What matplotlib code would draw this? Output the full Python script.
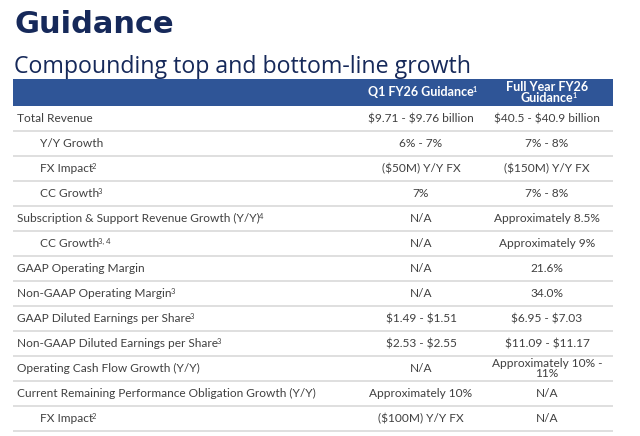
import matplotlib
matplotlib.use("Agg")
import matplotlib.pyplot as plt
from matplotlib.patches import Rectangle

plt.rcParams['font.family'] = ['Lato', 'DejaVu Sans']

title = "Guidance"
subtitle = "Compounding top and bottom-line growth"
col_headers = [["Q1 FY26 Guidance"], ["Full Year FY26", "Guidance"]]
col_header_sups = ["1", "1"]

labels = [
    "Total Revenue",
    "Y/Y Growth",
    "FX Impact",
    "CC Growth",
    "Subscription & Support Revenue Growth (Y/Y)",
    "CC Growth",
    "GAAP Operating Margin",
    "Non-GAAP Operating Margin",
    "GAAP Diluted Earnings per Share",
    "Non-GAAP Diluted Earnings per Share",
    "Operating Cash Flow Growth (Y/Y)",
    "Current Remaining Performance Obligation Growth (Y/Y)",
    "FX Impact",
]
label_sups = ["", "", "2", "3", "4", "3, 4", "", "3", "3", "3", "", "", "2"]
indented = [False, True, True, True, False, True, False, False, False, False, False, False, True]
q1_values = [
    "$9.71 - $9.76 billion", "6% - 7%", "($50M) Y/Y FX", "7%", "N/A", "N/A", "N/A",
    "N/A", "$1.49 - $1.51", "$2.53 - $2.55", "N/A", "Approximately 10%", "($100M) Y/Y FX",
]
fy_values = [
    "$40.5 - $40.9 billion", "7% - 8%", "($150M) Y/Y FX", "7% - 8%", "Approximately 8.5%",
    "Approximately 9%", "21.6%", "34.0%", "$6.95 - $7.03", "$11.09 - $11.17",
    "Approximately 10% -\n11%", "N/A", "N/A",
]

navy = "#16295a"
band_blue = "#2f5597"
text_gray = "#404040"
line_gray = "#dcdcdc"


def draw_text(ax, x, y, text, sup="", sup_size=5.5, **kw):
    t = ax.text(x, y, text, parse_math=False, **kw)
    if sup:
        # superscript hangs off the top right corner of the main text
        ax.annotate(sup, xy=(1, 1.0), xycoords=t, xytext=(-0.8, 0.3),
                    textcoords="offset points", fontsize=sup_size,
                    color=kw.get("color"), fontweight=kw.get("fontweight", "normal"),
                    ha="left", va="top", zorder=kw.get("zorder", 3))
    return t


fig = plt.figure(figsize=(6.4, 4.36), dpi=100)
ax = fig.add_axes([0, 0, 1, 1])
ax.set_xlim(0, 640)
ax.set_ylim(436, 0)
ax.axis("off")

# title block
ax.text(15, 33, title, fontsize=22, fontweight="bold", color=navy,
        family=["DejaVu Sans"], va="baseline", ha="left")
ax.text(14, 73, subtitle, fontsize=16.7, color=navy,
        family=["Open Sans", "DejaVu Sans"], va="baseline", ha="left")

# header band
left, right = 13, 613
band_top, band_bot = 79, 106
col_x = [421, 547]
ax.add_patch(Rectangle((left, band_top), right - left, band_bot - band_top,
                       facecolor=band_blue, edgecolor="none", zorder=2))
band_mid = (band_top + band_bot) / 2
for cx, lines, sup in zip(col_x, col_headers, col_header_sups):
    step = 11.5
    y0 = band_mid - step * (len(lines) - 1) / 2
    for j, line in enumerate(lines):
        last = j == len(lines) - 1
        draw_text(ax, cx, y0 + j * step, line, sup if last else "", sup_size=5,
                  fontsize=9, fontweight="bold", color="white",
                  ha="center", va="center", zorder=3)

# body rows
row_h = 25
for i, lab in enumerate(labels):
    y_top = band_bot + i * row_h
    yc = y_top + row_h / 2
    x0 = 40 if indented[i] else 17
    draw_text(ax, x0, yc, lab, label_sups[i], fontsize=8.6, color=text_gray,
              ha="left", va="center")
    for cx, val in zip(col_x, [q1_values[i], fy_values[i]]):
        ax.text(cx, yc, val, fontsize=8.6, color=text_gray, ha="center",
                va="center", linespacing=0.95, parse_math=False)
    ax.plot([left, right], [y_top + row_h, y_top + row_h], color=line_gray,
            linewidth=1.3, solid_capstyle="butt")

fig.savefig("out.png", dpi=100, facecolor="white")
